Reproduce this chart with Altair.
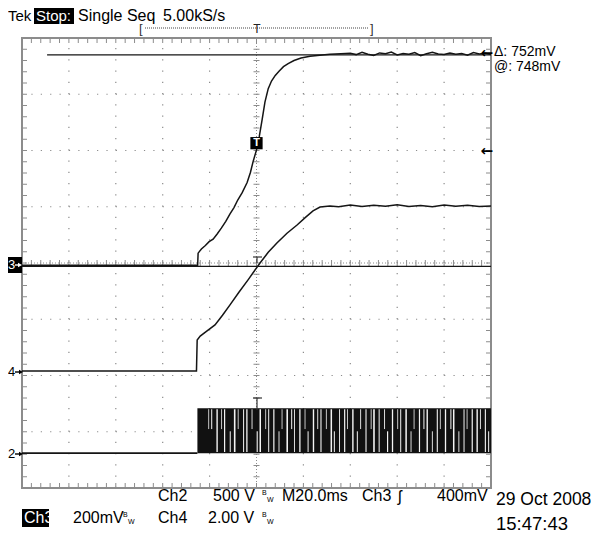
import altair as alt
import numpy as np
import pandas as pd

# ---------------- data (read from the scope screen) ----------------
# time base: M 20.0 ms/div, 10 div wide, trigger at centre
T_MIN, T_MAX = -100.0, 100.0
MS_PER_DIV = 20.0

# Ch3: 200 mV/div, ground marker slightly below centre
CH3_SCALE, CH3_POS = 200.0, -0.04
ch3_t = [-100, -25.1, -24.9, -23.5, -21.8, -20.2, -18.5, -16.7, -15.0, -13.1, -11.3,
         -9.6, -8.0, -6.1, -4.0, -2.6, -1.4, 0.0, 1.2, 2.4, 3.6, 5.0, 6.4, 8.0, 9.6,
         11.5, 13.5, 16.0, 19.0, 22.8, 27.0, 31.3, 36.0,
         40.0, 42.5, 45.0, 47.5, 50.0, 52.5, 55.0, 57.5, 60.0, 62.5, 65.0, 67.5, 70.0,
         72.5, 75.0, 77.5, 80.0, 82.5, 85.0, 87.5, 90.0, 92.5, 95.0, 97.5, 100.0]
ch3_mv = [0, 0, 43, 58, 70, 84, 93, 112, 132, 156, 183,
          205, 232, 258, 294, 330, 370, 410, 458, 518, 580, 628, 655, 675, 690,
          706, 717, 728, 737, 743, 747, 750, 752,
          754, 749, 757, 750, 746, 755, 752, 758, 748, 753, 750, 756, 745,
          752, 757, 751, 749, 755, 750, 753, 747, 756, 751, 754, 749]

# Ch4: 2.00 V/div
CH4_SCALE, CH4_POS = 2.0, -1.92
ch4_t = [-100, -25.6, -25.3, -24.0, -21.5, -17.7, -14.5, -11.3, -7.5, -3.6, 1.5,
         5.0, 8.7, 13.0, 17.3, 21.0, 24.1, 27.1, 31.3,
         35, 40, 45, 50, 55, 60, 65, 70, 75, 80, 85, 90, 95, 100]
ch4_v = [0, 0, 1.10, 1.24, 1.40, 1.64, 1.98, 2.35, 2.80, 3.24, 3.84,
         4.22, 4.55, 4.90, 5.19, 5.47, 5.69, 5.83, 5.87,
         5.84, 5.90, 5.85, 5.89, 5.86, 5.91, 5.85, 5.88, 5.84, 5.90, 5.86, 5.89, 5.85, 5.87]

# Ch2: 500 V/div, switching waveform
CH2_SCALE, CH2_POS = 500.0, -3.38
ch2_start = -25.2
ch2_high = 400.0
ch2_mid = 204.0
gap_t = [-20.4, -19.1, -16.8, -14.9, -13.6, -11.2, -9.3, -7.8, -5.5, -4.1, -1.9, 0.3,
         1.6, 3.9, 5.2, 7.4, 9.6, 10.9, 13.1, 15.0, 16.2, 18.5, 20.7, 22.0, 24.3, 26.1,
         27.5, 29.8, 31.9, 33.2, 35.4, 37.6, 38.8, 41.1, 43.0, 44.4, 46.7, 48.9, 50.1,
         52.3, 54.6, 55.9, 58.0, 60.2, 61.5, 63.8, 65.9, 67.2, 69.5, 71.4, 72.8, 75.0,
         77.1, 78.4, 80.6, 82.9, 84.1, 86.3, 88.5, 89.8, 92.0, 94.1, 95.5, 97.6, 99.0]
gap_kind = ["u", "u", "f", "u", "f", "l", "f", "u", "f", "f", "u", "l",
            "f", "u", "f", "f", "l", "u", "f", "u", "f", "f", "u", "l", "f", "u",
            "f", "u", "f", "l", "f", "f", "u", "f", "l", "u", "f", "u", "f",
            "f", "u", "l", "f", "u", "f", "f", "l", "u", "f", "u", "f", "l",
            "f", "u", "f", "u", "f", "l", "f", "u", "f", "f", "u", "f", "l"]
gap_w = [0.8, 1.0, 1.4, 0.8, 1.2, 1.0, 1.6, 0.8, 1.0, 1.3, 0.9, 1.1,
         1.5, 0.8, 1.0, 1.2, 0.9, 0.8, 1.6, 1.0, 0.9, 1.3, 0.8, 1.0, 1.4, 0.9,
         1.1, 0.8, 1.5, 1.0, 0.9, 1.2, 0.8, 1.4, 1.0, 0.9, 1.1, 0.8, 1.6,
         1.0, 0.9, 1.2, 1.3, 0.8, 1.0, 1.5, 0.9, 0.8, 1.2, 1.0, 1.4, 0.9,
         1.1, 0.8, 1.3, 1.0, 1.5, 0.9, 1.0, 0.8, 1.2, 1.4, 0.9, 1.1, 1.0]

# cursors / trigger
cursor_hi_mv = 748.0
cursor_lo_mv = -4.0
trig_level_mv = 400.0

# ---------------- helpers ----------------
W, H = 469, 450
PX_PER_MS = W / (T_MAX - T_MIN)
PX_PER_DIV = H / 8.0
GRAT = "#8c8c8c"
TRACE = "#151515"
FONT = "Liberation Sans"
ARROW_FONT = "DejaVu Sans"

xs = alt.Scale(domain=[T_MIN, T_MAX], nice=False, zero=False)
ys = alt.Scale(domain=[-4, 4], nice=False, zero=False)
X = lambda f: alt.X(f, type="quantitative", scale=xs, axis=None)
Y = lambda f: alt.Y(f, type="quantitative", scale=ys, axis=None)

d3 = pd.DataFrame({"t": ch3_t, "d": np.array(ch3_mv) / CH3_SCALE + CH3_POS})
d4 = pd.DataFrame({"t": ch4_t, "d": np.array(ch4_v) / CH4_SCALE + CH4_POS})
d2 = pd.DataFrame({"t": [T_MIN, ch2_start], "d": [CH2_POS, CH2_POS]})

layers = []

# ---- graticule ----
minor_x = np.round(np.arange(T_MIN, T_MAX + 0.01, MS_PER_DIV / 5), 3)
minor_y = np.round(np.arange(-4, 4.001, 0.2), 3)
hgrid = pd.DataFrame({"y": [v for v in range(-3, 4) if v != 0], "x1": T_MIN, "x2": T_MAX})
vgrid = pd.DataFrame({"x": [v * MS_PER_DIV for v in range(-4, 5) if v != 0], "y1": -4, "y2": 4})
layers.append(alt.Chart(hgrid).mark_rule(color=GRAT, strokeWidth=1.2,
              strokeDash=[1.2, W / 50 - 1.2])
              .encode(x=X("x1"), x2="x2", y=Y("y")))
layers.append(alt.Chart(vgrid).mark_rule(color=GRAT, strokeWidth=1.2,
              strokeDash=[1.2, PX_PER_DIV * 0.2 - 1.2])
              .encode(x=X("x"), y=Y("y1"), y2="y2"))
# centre cross
layers.append(alt.Chart(pd.DataFrame({"y": [0], "x1": [T_MIN], "x2": [T_MAX]}))
              .mark_rule(color=GRAT, strokeWidth=1, strokeDash=[1, 2])
              .encode(x=X("x1"), x2="x2", y=Y("y")))
layers.append(alt.Chart(pd.DataFrame({"x": [0], "y1": [-4], "y2": [4]}))
              .mark_rule(color=GRAT, strokeWidth=1, strokeDash=[1, 2])
              .encode(x=X("x"), y=Y("y1"), y2="y2"))
tk = 3.0
ticks_h = pd.DataFrame({"x": minor_x, "y1": -tk / PX_PER_DIV, "y2": tk / PX_PER_DIV})
ticks_v = pd.DataFrame({"y": minor_y, "x1": -tk / PX_PER_MS, "x2": tk / PX_PER_MS})
layers.append(alt.Chart(ticks_h).mark_rule(color=GRAT, strokeWidth=1)
              .encode(x=X("x"), y=Y("y1"), y2="y2"))
layers.append(alt.Chart(ticks_v).mark_rule(color=GRAT, strokeWidth=1)
              .encode(x=X("x1"), x2="x2", y=Y("y")))
# border ticks
bt = 5.0
btop = pd.DataFrame({"x": minor_x, "y1": 4 - bt / PX_PER_DIV, "y2": 4})
bbot = pd.DataFrame({"x": minor_x, "y1": -4, "y2": -4 + bt / PX_PER_DIV})
bl = pd.DataFrame({"y": minor_y, "x1": T_MIN, "x2": T_MIN + bt / PX_PER_MS})
br = pd.DataFrame({"y": minor_y, "x1": T_MAX - bt / PX_PER_MS, "x2": T_MAX})
for df in (btop, bbot):
    layers.append(alt.Chart(df).mark_rule(color=GRAT, strokeWidth=1)
                  .encode(x=X("x"), y=Y("y1"), y2="y2"))
for df in (bl, br):
    layers.append(alt.Chart(df).mark_rule(color=GRAT, strokeWidth=1)
                  .encode(x=X("x1"), x2="x2", y=Y("y")))

# ---- cursors ----
cur = pd.DataFrame({"y": [cursor_hi_mv / CH3_SCALE + CH3_POS, cursor_lo_mv / CH3_SCALE + CH3_POS],
                    "x1": [-89.3, T_MIN], "x2": [T_MAX, T_MAX]})
layers.append(alt.Chart(cur).mark_rule(color=TRACE, strokeWidth=1.3)
              .encode(x=X("x1"), x2="x2", y=Y("y")))

# ---- Ch2 switching band ----
band = pd.DataFrame({"x1": [ch2_start], "x2": [T_MAX], "y1": [CH2_POS],
                     "y2": [ch2_high / CH2_SCALE + CH2_POS]})
layers.append(alt.Chart(band).mark_rect(color="#111111").encode(x=X("x1"), x2="x2", y=Y("y1"), y2="y2"))
lo = {"f": 0.0, "u": ch2_mid, "l": 0.0}
hi = {"f": ch2_high, "u": ch2_high, "l": ch2_mid}
gaps = pd.DataFrame({"t": gap_t, "w": gap_w,
                     "y1": [lo[k] / CH2_SCALE + CH2_POS + 0.02 for k in gap_kind],
                     "y2": [hi[k] / CH2_SCALE + CH2_POS - 0.02 for k in gap_kind]})
layers.append(alt.Chart(gaps).mark_rule(color="#f4f4f4")
              .encode(x=X("t"), y=Y("y1"), y2="y2", size=alt.Size("w:Q", scale=None, legend=None)))
layers.append(alt.Chart(d2).mark_line(color=TRACE, strokeWidth=1.6).encode(x=X("t"), y=Y("d")))

# ---- traces ----
layers.append(alt.Chart(d4).mark_line(color=TRACE, strokeWidth=1.5).encode(x=X("t"), y=Y("d")))
layers.append(alt.Chart(d3).mark_line(color=TRACE, strokeWidth=1.5).encode(x=X("t"), y=Y("d")))

# trigger marker on ch3
trig_d = float(np.interp(0.6, ch3_t, ch3_mv)) / CH3_SCALE + CH3_POS
tm = pd.DataFrame({"t": [0.0], "d": [trig_d]})
layers.append(alt.Chart(tm).mark_square(color="black", size=150, opacity=1).encode(x=X("t"), y=Y("d")))
layers.append(alt.Chart(tm).mark_text(text="T", color="white", font=FONT, fontSize=11, fontWeight="bold")
              .encode(x=X("t"), y=Y("d")))

# ---- text annotations (pixel positions relative to plot origin) ----
OX, OY = 22, 38  # page position of plot origin


def txt(s, px, py, size=15, color="black", align="left", weight="normal", font=FONT):
    return (alt.Chart(pd.DataFrame({"a": [0]}))
            .mark_text(text=s, align=align, baseline="middle", fontSize=size, color=color,
                       font=font, fontWeight=weight)
            .encode(x=alt.value(px - OX), y=alt.value(py - OY)))


def box(x1, y1, x2, y2, color="black"):
    return (alt.Chart(pd.DataFrame({"a": [0]}))
            .mark_rect(color=color)
            .encode(x=alt.value(x1 - OX), x2=alt.value(x2 - OX), y=alt.value(y1 - OY), y2=alt.value(y2 - OY)))


def hline(x1, x2, y, dash=None, color="black", w=1):
    kw = {"strokeDash": dash} if dash else {}
    return (alt.Chart(pd.DataFrame({"a": [0]}))
            .mark_rule(color=color, strokeWidth=w, **kw)
            .encode(x=alt.value(x1 - OX), x2=alt.value(x2 - OX), y=alt.value(y - OY)))


def vline(x, y1, y2, color="black", w=1):
    return (alt.Chart(pd.DataFrame({"a": [0]}))
            .mark_rule(color=color, strokeWidth=w)
            .encode(x=alt.value(x - OX), y=alt.value(y1 - OY), y2=alt.value(y2 - OY)))


def arrow_right(x1, x2, y, color="black"):
    head = (alt.Chart(pd.DataFrame({"a": [0]}))
            .mark_point(shape="triangle-right", filled=True, size=22, color=color, opacity=1)
            .encode(x=alt.value(x2 - 2 - OX), y=alt.value(y - OY)))
    return [hline(x1, x2 - 2, y, color=color, w=1.4), head]


# header (page edge at 8px: keep everything inside)
layers += [txt("Tek", 8, 16, size=15), box(34, 8, 74, 24), txt("Stop:", 36, 16, size=15, color="white"),
           txt("Single Seq", 78, 16, size=16), txt("5.00kS/s", 163, 16, size=16)]
# record-length bracket
layers += [hline(145, 368, 28, dash=[1, 1], color="#444"),
           txt("[", 139, 29, size=13, color="#333"), txt("]", 370, 29, size=13, color="#333"),
           txt("T", 257, 29, size=12, align="center", color="#222")]
# small position markers on the centre line
layers += [hline(253, 262, 398, color="#333", w=1.2), vline(257, 398, 410, color="#333", w=1.2),
           hline(253, 262, 257, color="#333", w=1.2), vline(257, 257, 263, color="#333", w=1.2)]
# cursor readouts
layers += [txt("\u0394: 752mV", 494, 52, size=14), txt("@: 748mV", 494, 67, size=14)]
# right-edge arrows (cursor, trigger level)
layers += [txt("\u2190", 493, 53, size=15, align="right", font=ARROW_FONT, weight="bold"),
           txt("\u2190", 493, 151, size=15, align="right", font=ARROW_FONT, weight="bold")]
# channel ground markers
layers += [box(8, 257, 22, 273), txt("3", 8, 265, size=13, color="white")]
layers += arrow_right(15, 22, 265, color="white")
layers += [txt("4", 8, 372, size=13)]
layers += arrow_right(15, 23, 372)
layers += [txt("2", 8, 454, size=13)]
layers += arrow_right(15, 23, 454)
# bottom status lines
layers += [txt("Ch2", 158, 496, size=16), txt("500 V", 213, 496, size=16),
           txt("B", 262, 493, size=7), txt("W", 267, 500, size=7),
           txt("M20.0ms", 282, 496, size=16), txt("Ch3", 362, 496, size=16),
           txt("\u0283", 398, 497, size=16), txt("400mV", 437, 496, size=16),
           txt("29 Oct 2008", 496, 500, size=17.5),
           box(22, 509, 49, 527), txt("Ch3", 24, 518, size=16, color="white"),
           txt("200mV", 73, 518, size=16), txt("B", 123, 515, size=7), txt("W", 128, 522, size=7),
           txt("Ch4", 158, 518, size=16), txt("2.00 V", 208, 518, size=16),
           txt("B", 262, 515, size=7), txt("W", 267, 522, size=7),
           txt("15:47:43", 496, 524, size=18.5)]

chart = (alt.layer(*layers)
         .properties(width=W, height=H, autosize="none",
                     padding={"left": 14, "top": 30, "right": 100, "bottom": 50},
                     background="white")
         .configure_view(stroke=GRAT, strokeWidth=2))

chart.save("out.html", embed_options={"renderer": "svg", "actions": False})
